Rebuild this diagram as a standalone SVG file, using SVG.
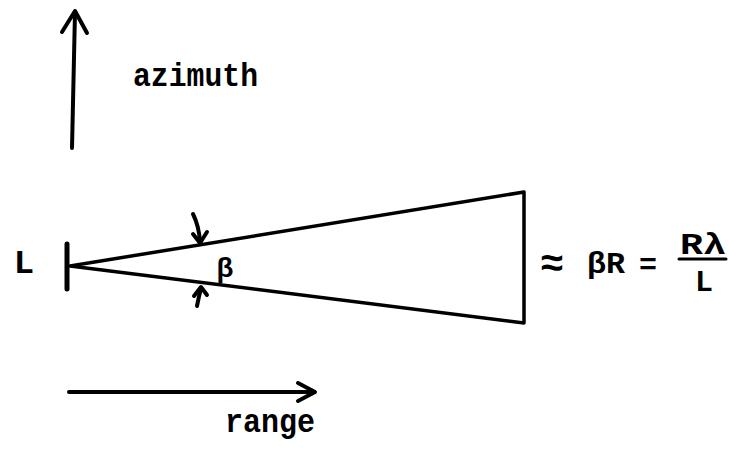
<svg xmlns="http://www.w3.org/2000/svg" width="729" height="469" viewBox="0 0 729 469">
<style>
.t{font-family:"Liberation Mono","DejaVu Sans Mono",monospace;font-weight:bold;fill:#000}
.s{fill:none;stroke:#000;stroke-width:4;stroke-linecap:round;stroke-linejoin:round}
</style>
<rect width="729" height="469" fill="#fff"/>
<g id="connectors">
<path class="s" d="M72,148 L75,12"/>
<path class="s" d="M62,32 L75,11 L87,33"/>
<path class="s" d="M69,392 L314,392"/>
<path class="s" d="M298,383 L315,392 L298,401"/>
<path class="s" d="M193,214 Q199,226 200,242"/>
<path class="s" d="M193,234 L200,243 L207,232"/>
<path class="s" d="M197,306 Q199,296 201,288"/>
<path class="s" d="M194,296 L201,287 L207,295"/>
</g>
<g id="beam">
<path class="s" d="M70,266 L524,192 L524,323 Z" style="stroke-width:3.5"/>
</g>
<g id="antenna">
<path class="s" d="M67,244 L67,289" style="stroke-width:5"/>
<text class="t" x="24" y="273" font-size="34" text-anchor="middle">L</text>
</g>
<g id="labels">
<text class="t" x="133" y="86" font-size="34" textLength="125" lengthAdjust="spacingAndGlyphs">azimuth</text>
<text class="t" x="225" y="432" font-size="34" textLength="90" lengthAdjust="spacingAndGlyphs">range</text>
<text class="t" x="225" y="277" font-size="28" text-anchor="middle">β</text>
</g>
<g id="equation">
<text class="t" x="552" y="276" font-size="40" text-anchor="middle">≈</text>
<text class="t" x="587" y="273" font-size="30" textLength="38" lengthAdjust="spacingAndGlyphs">βR</text>
<text class="t" x="648" y="274" font-size="30" text-anchor="middle">=</text>
<text class="t" x="680" y="254" font-size="30" textLength="46" lengthAdjust="spacingAndGlyphs">Rλ</text>
<path class="s" d="M679,259 L726,259" style="stroke-width:3"/>
<text class="t" x="704" y="291" font-size="30" text-anchor="middle">L</text>
</g>
</svg>
